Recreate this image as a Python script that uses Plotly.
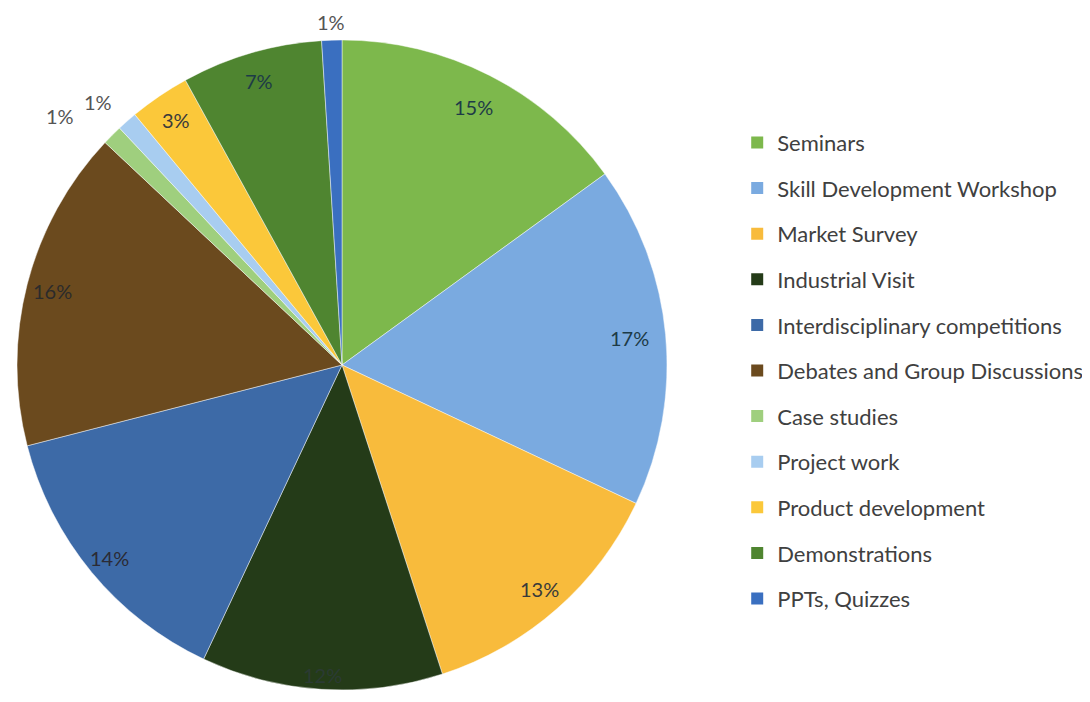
import math
import plotly.graph_objects as go

categories = ["Seminars", "Skill Development Workshop", "Market Survey", "Industrial Visit",
              "Interdisciplinary competitions", "Debates and Group Discussions", "Case studies",
              "Project work", "Product development", "Demonstrations", "PPTs, Quizzes"]
values = [15, 17, 13, 12, 14, 16, 1, 1, 3, 7, 1]
colors = ["#7db84c", "#7aaae0", "#f8bb3c", "#243b18", "#3d6aa7", "#6b4a1e",
          "#9fcf7e", "#a8cdf0", "#fbc83a", "#4f8530", "#3a6fc0"]

# label style (radius as fraction of pie radius, angle shift in % of circle, colour)
label_r = [0.89, 0.89, 0.92, 0.957, 0.93, 0.92, 1.157, 1.105, 0.91, 0.91, 1.055]
label_shift = [0, 0, 0, 0, 0, 0, -1.0, -0.4, 0, 0, 0]
label_col = ["#1d3b47", "#1d3b47", "#3a3a3a", "#2b3a33", "#2b2b35", "#2b2b2b",
             "#555555", "#555555", "#3a3a3a", "#1d3b47", "#555555"]

W, H = 1090, 702
OFF = 8  # page body margin
cx, cy, R = 342 - OFF, 365 - OFF, 325

fig = go.Figure()
fig.add_trace(go.Pie(
    labels=categories, values=values, sort=False, direction="clockwise", rotation=0,
    marker=dict(colors=colors, line=dict(color="rgba(255,255,255,0.45)", width=1)),
    textinfo="none", hoverinfo="label+percent", showlegend=False,
    domain=dict(x=[(cx - R) / W, (cx + R) / W], y=[(H - cy - R) / H, (H - cy + R) / H]),
))

total = sum(values)
cum = 0
annotations = []
for i, v in enumerate(values):
    mid = (cum + v / 2) / total * 100 + label_shift[i]
    cum += v
    ang = mid / 100 * 2 * math.pi
    px = cx + label_r[i] * R * math.sin(ang)
    py = cy - label_r[i] * R * math.cos(ang)
    annotations.append(dict(
        x=px / W, y=(H - py) / H, xref="paper", yref="paper", showarrow=False,
        text=f"{round(v / total * 100)}%", xanchor="center", yanchor="middle",
        font=dict(family="Lato, Open Sans, sans-serif", size=20, color=label_col[i]),
    ))

# legend entries
for name, c in zip(categories, colors):
    fig.add_trace(go.Scatter(
        x=[None], y=[None], mode="markers", name=name, legendgroup=name,
        marker=dict(symbol="square", size=12, color=c),
    ))

fig.update_layout(
    width=W, height=H, margin=dict(l=0, r=0, t=0, b=0),
    paper_bgcolor="white", plot_bgcolor="white",
    xaxis=dict(visible=False), yaxis=dict(visible=False),
    annotations=annotations,
    legend=dict(x=0.669, y=0.838, xanchor="left", yanchor="top",
                traceorder="grouped", tracegroupgap=14, itemwidth=30,
                font=dict(family="Lato, Open Sans, sans-serif", size=22, color="#404040"),
                bgcolor="rgba(0,0,0,0)"),
)
fig.write_html("out.html")
